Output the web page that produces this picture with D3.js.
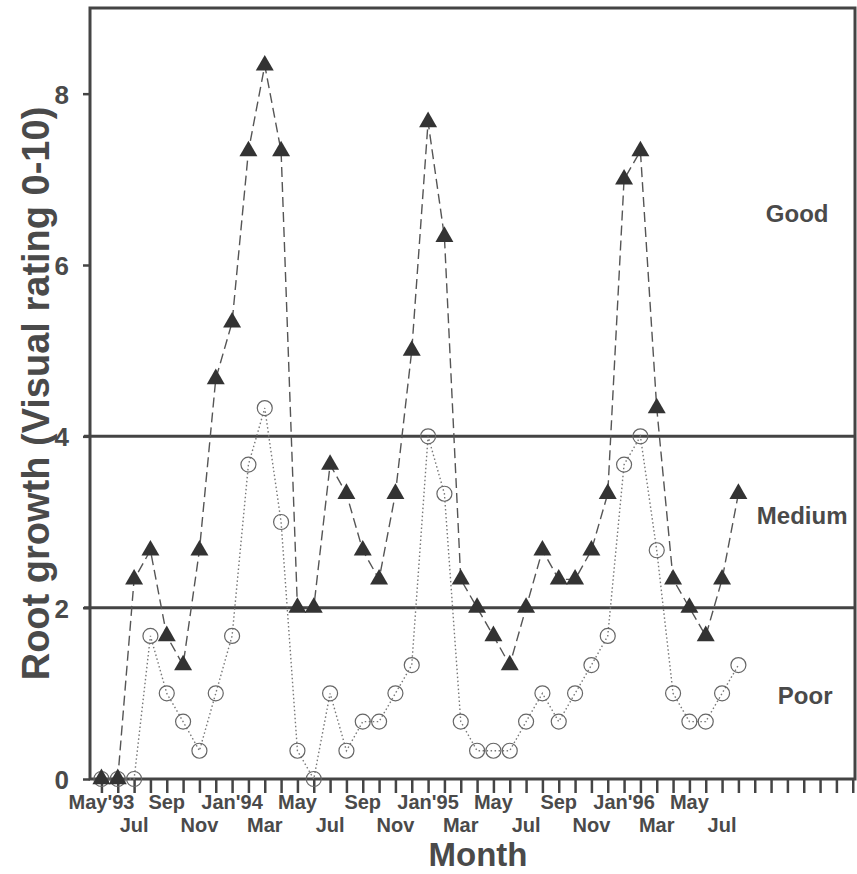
<!DOCTYPE html>
<html>
<head>
<meta charset="utf-8">
<script src="https://cdn.jsdelivr.net/npm/d3@7"></script>
<style>
  body { margin: 0; background: #fff; }
  .label { font-family: "Liberation Sans", Arial, sans-serif; font-weight: bold; fill: #4a4a4a; }
</style>
</head>
<body>
<div id="chart"></div>
<script>
// month index 0 = May'93
var monthIndex = d3.range(0, 40);

// filled triangles
var triangleValues = [0, 0, 2.33, 2.67, 1.67, 1.33, 2.67, 4.67, 5.33, 7.33,
  8.33, 7.33, 2, 2, 3.67, 3.33, 2.67, 2.33, 3.33, 5,
  7.67, 6.33, 2.33, 2, 1.67, 1.33, 2, 2.67, 2.33, 2.33,
  2.67, 3.33, 7, 7.33, 4.33, 2.33, 2, 1.67, 2.33, 3.33];

// open circles
var circleValues = [0, 0, 0, 1.67, 1, 0.67, 0.33, 1, 1.67, 3.67,
  4.33, 3, 0.33, 0, 1, 0.33, 0.67, 0.67, 1, 1.33,
  4, 3.33, 0.67, 0.33, 0.33, 0.33, 0.67, 1, 0.67, 1,
  1.33, 1.67, 3.67, 4, 2.67, 1, 0.67, 0.67, 1, 1.33];

var monthLabels = ["May'93", "Jul", "Sep", "Nov", "Jan'94", "Mar", "May", "Jul", "Sep", "Nov",
  "Jan'95", "Mar", "May", "Jul", "Sep", "Nov", "Jan'96", "Mar", "May", "Jul"];

var yTicks = [0, 2, 4, 6, 8];
var classBounds = [2, 4];
var classNames = ["Good", "Medium", "Poor"];
var classLabelValues = [6.6, 3.08, 0.98];

RootChart = function(_parentElement){
  this.parentElement = _parentElement;
  this.initVis();
};

RootChart.prototype.initVis = function(){
  var vis = this;

  vis.margin = { top: 8, right: 1, bottom: 95, left: 90 };
  vis.width = 857 - vis.margin.left - vis.margin.right;
  vis.height = 874 - vis.margin.top - vis.margin.bottom;

  vis.svg = d3.select("#" + vis.parentElement).append("svg")
    .attr("width", 857)
    .attr("height", 874)
    .append("g")
    .attr("transform", "translate(" + vis.margin.left + "," + vis.margin.top + ")");

  vis.x = d3.scaleLinear()
    .domain([-0.7, 46.2])
    .range([0, vis.width]);

  vis.y = d3.scaleLinear()
    .domain([0, 9])
    .range([vis.height, 0]);

  vis.updateVis();
};

RootChart.prototype.updateVis = function(){
  var vis = this;
  var ink = "#444";

  // month ticks
  var xAxis = d3.axisBottom(vis.x)
    .tickValues(d3.range(0, 47))
    .tickSize(14)
    .tickFormat("");
  var gx = vis.svg.append("g")
    .attr("class", "axis axis--x")
    .attr("transform", "translate(0," + vis.height + ")")
    .call(xAxis);
  gx.select(".domain").remove();
  gx.selectAll("line").attr("stroke", ink).attr("stroke-width", 2.5);

  // month labels, two staggered rows
  vis.svg.selectAll(".month-label")
    .data(monthLabels)
    .enter().append("text")
    .attr("class", "month-label label")
    .attr("text-anchor", "middle")
    .attr("x", function(d, i){ return vis.x(i * 2); })
    .attr("y", function(d, i){ return vis.height + (i % 2 === 0 ? 30 : 53); })
    .style("font-size", "20px")
    .text(function(d){ return d; });

  // y axis
  var yAxis = d3.axisLeft(vis.y)
    .tickValues(yTicks)
    .tickSize(7)
    .tickPadding(14)
    .tickFormat(d3.format("d"));
  var gy = vis.svg.append("g")
    .attr("class", "axis axis--y")
    .call(yAxis);
  gy.select(".domain").remove();
  gy.selectAll("line").attr("stroke", ink).attr("stroke-width", 2.5);
  gy.selectAll("text")
    .attr("class", "label")
    .attr("dy", "0.36em")
    .style("font-size", "26px");

  // frame
  vis.svg.append("rect")
    .attr("x", 0).attr("y", 0)
    .attr("width", vis.x(46.2) - 1)
    .attr("height", vis.height)
    .attr("fill", "none")
    .attr("stroke", ink)
    .attr("stroke-width", 3);

  // class boundaries
  vis.svg.selectAll(".bound")
    .data(classBounds)
    .enter().append("line")
    .attr("class", "bound")
    .attr("x1", -6)
    .attr("x2", vis.width)
    .attr("y1", function(d){ return vis.y(d); })
    .attr("y2", function(d){ return vis.y(d); })
    .attr("stroke", ink)
    .attr("stroke-width", 3);

  // label centres differ slightly in the original
  var labelShift = { Good: 0, Medium: 5, Poor: 8 };
  vis.svg.selectAll(".class-label")
    .data(classNames)
    .enter().append("text")
    .attr("class", "class-label label")
    .attr("text-anchor", "middle")
    .attr("x", function(d){ return vis.x(42.6) + labelShift[d]; })
    .attr("y", function(d, i){ return vis.y(classLabelValues[i]); })
    .attr("dy", "0.36em")
    .style("font-size", "24px")
    .text(function(d){ return d; });

  // circles series, dotted
  var seriesLine = d3.line()
    .x(function(d, i){ return vis.x(monthIndex[i]); })
    .y(function(d){ return vis.y(d); });

  vis.svg.append("path")
    .datum(circleValues)
    .attr("d", seriesLine)
    .attr("fill", "none")
    .attr("stroke", "#777")
    .attr("stroke-width", 1.4)
    .attr("stroke-dasharray", "1.5,2.5");

  vis.svg.selectAll(".dot")
    .data(circleValues)
    .enter().append("circle")
    .attr("class", "dot")
    .attr("r", 7.5)
    .attr("cx", function(d, i){ return vis.x(monthIndex[i]); })
    .attr("cy", function(d){ return vis.y(d); })
    .attr("fill", "none")
    .attr("stroke", "#666")
    .attr("stroke-width", 1.2);

  // triangles series, dashed
  vis.svg.append("path")
    .datum(triangleValues)
    .attr("d", seriesLine)
    .attr("fill", "none")
    .attr("stroke", "#555")
    .attr("stroke-width", 1.4)
    .attr("stroke-dasharray", "10,5");

  vis.svg.selectAll(".tri")
    .data(triangleValues)
    .enter().append("path")
    .attr("class", "tri")
    .attr("d", d3.symbol().type(d3.symbolTriangle).size(140))
    .attr("transform", function(d, i){
      return "translate(" + vis.x(monthIndex[i]) + "," + vis.y(d) + ")";
    })
    .attr("fill", "#333");

  // axis titles
  vis.svg.append("text")
    .attr("class", "axis-label label")
    .attr("text-anchor", "middle")
    .attr("x", 388)
    .attr("y", vis.height + 87)
    .style("font-size", "33px")
    .text("Month");

  vis.svg.append("text")
    .attr("class", "axis-label label")
    .attr("text-anchor", "middle")
    .attr("transform", "translate(-41," + (vis.y(4.5)) + ")rotate(-90)")
    .style("font-size", "38px")
    .text("Root growth (Visual rating 0-10)");
};

var chart = new RootChart("chart");
</script>
</body>
</html>
